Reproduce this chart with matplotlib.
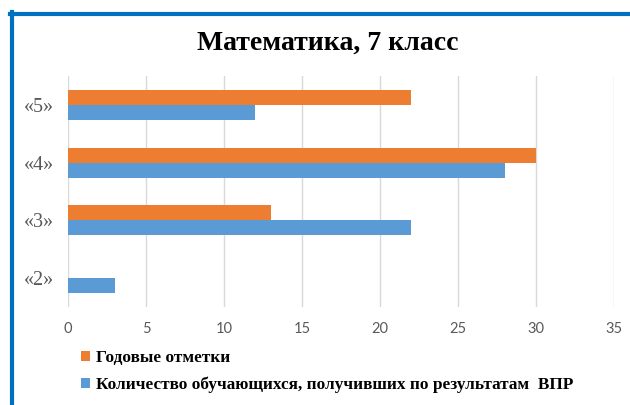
import matplotlib
matplotlib.use("Agg")
import matplotlib.pyplot as plt
from matplotlib.lines import Line2D
import numpy as np

categories = ["«2»", "«3»", "«4»", "«5»"]
annual = [0, 13, 30, 22]
vpr = [3, 22, 28, 12]
series_names = ["Годовые отметки", "Количество обучающихся, получивших по результатам  ВПР"]
xticks = [0, 5, 10, 15, 20, 25, 30, 35]

orange = "#ED7D31"
blue = "#5B9BD5"
gray = "#595959"

fig = plt.figure(figsize=(6.3, 4.05), dpi=100)
ax = fig.add_axes([68/630, 1-307/405, (614-68)/630, (307-76)/405])

y = np.arange(len(categories))
h = 0.26
ax.barh(y + h/2, annual, height=h, color=orange, label=series_names[0], zorder=3)
ax.barh(y - h/2, vpr, height=h, color=blue, label=series_names[1], zorder=3)

ax.set_xlim(0, 35)
ax.set_ylim(-0.5, len(categories) - 0.5)
ax.set_xticks(xticks)
ax.set_xticklabels([str(t) for t in xticks], fontfamily="Lato", fontsize=10.5, color=gray)
ax.set_yticks(y)
ax.set_yticklabels(categories, fontfamily="Liberation Serif", fontsize=14.5, color=gray)
ax.tick_params(axis="both", length=0)
ax.tick_params(axis="x", pad=11)
ax.tick_params(axis="y", pad=10)
ax.grid(axis="x", color="#D9D9D9", linewidth=1, zorder=0)
for s in ax.spines.values():
    s.set_visible(False)

fig.text(0.52, 1-43/405, "Математика, 7 класс", ha="center", va="center",
         fontfamily="Liberation Serif", fontweight="bold", fontsize=20)

leg = fig.legend(loc="upper left", bbox_to_anchor=(81/630, 1-350/405), frameon=False,
                 prop={"family": "Liberation Serif", "weight": "bold", "size": 12.4},
                 handlelength=0.55, handleheight=0.55, handletextpad=0.35, labelspacing=0.6,
                 borderaxespad=0, borderpad=0)

# selection frame (top and left edges)
bc = "#0070C0"
fig.add_artist(Line2D([10/630, 1], [1-14/405, 1-14/405], color=bc, linewidth=3, transform=fig.transFigure))
fig.add_artist(Line2D([12/630, 12/630], [0, 1-12/405], color=bc, linewidth=3, transform=fig.transFigure))

fig.savefig("out.png", dpi=100)
